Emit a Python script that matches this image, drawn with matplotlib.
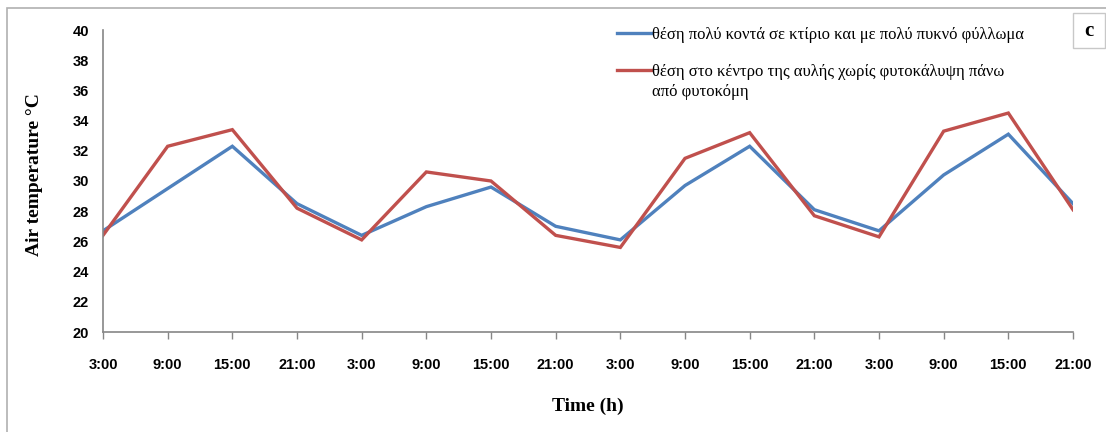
import matplotlib
matplotlib.use("Agg")
import matplotlib.pyplot as plt
from matplotlib.patches import Rectangle
from matplotlib.lines import Line2D

times = ["3:00", "9:00", "15:00", "21:00"] * 4
near_building = [26.7, 29.5, 32.3, 28.5, 26.4, 28.3, 29.6, 27.0,
                 26.1, 29.7, 32.3, 28.1, 26.7, 30.4, 33.1, 28.5]
courtyard_center = [26.4, 32.3, 33.4, 28.2, 26.1, 30.6, 30.0, 26.4,
                    25.6, 31.5, 33.2, 27.7, 26.3, 33.3, 34.5, 28.1]
label_blue = "θέση πολύ κοντά σε κτίριο και με πολύ πυκνό φύλλωμα"
label_red = "θέση στο κέντρο της αυλής χωρίς φυτοκάλυψη πάνω\nαπό φυτοκόμη"
y_ticks = list(range(20, 41, 2))

W, H = 1106, 432
BLUE, RED = "#4F81BD", "#C0504D"
fig = plt.figure(figsize=(W / 100, H / 100), dpi=100)
ax = fig.add_axes([103 / W, 1 - 332 / H, (1073 - 103) / W, (332 - 30) / H])

x = list(range(len(times)))
ax.plot(x, near_building, color=BLUE, lw=2.4, solid_joinstyle="miter")
ax.plot(x, courtyard_center, color=RED, lw=2.4, solid_joinstyle="miter")

ax.set_xlim(0, len(times) - 1)
ax.set_ylim(20, 40)
ax.set_xticks(x)
ax.set_xticklabels(times, fontfamily="Liberation Sans", fontweight="bold", fontsize=10.5)
ax.set_yticks(y_ticks)
ax.set_yticklabels([str(v) for v in y_ticks], fontfamily="Liberation Sans", fontweight="bold", fontsize=10.5)
ax.tick_params(axis="x", direction="out", length=5, width=1, color="#868686", pad=14)
ax.tick_params(axis="y", length=0, pad=10)
for s in ["top", "right"]:
    ax.spines[s].set_visible(False)
for s in ["left", "bottom"]:
    ax.spines[s].set_color("#868686")
    ax.spines[s].set_linewidth(1.2)

ax.set_xlabel("Time (h)", fontfamily="Liberation Serif", fontweight="bold", fontsize=14, labelpad=18)
fig.text(35 / W, 1 - 175 / H, "Air temperature \u00b0C", rotation=90, ha="center", va="center",
         fontfamily="Liberation Serif", fontweight="bold", fontsize=14)

# legend (drawn manually to match layout)
for yy, col, lab in [(33, BLUE, label_blue), (70, RED, label_red)]:
    fig.add_artist(Line2D([617 / W, 651 / W], [1 - yy / H, 1 - yy / H], color=col, lw=2.4,
                          transform=fig.transFigure))
    fig.text(652 / W, 1 - (yy - 6) / H, lab, ha="left", va="top", fontfamily="Liberation Serif",
             fontsize=12, linespacing=1.3)

# outer frame
fig.patches.append(Rectangle((7 / W, -0.1), 1.2, 1 - 8 / H + 0.1, transform=fig.transFigure,
                             fill=False, edgecolor="#B0B0B0", lw=1.2))
# panel letter box
fig.patches.append(Rectangle((1073 / W, 1 - 48 / H), 32 / W, 35 / H, transform=fig.transFigure,
                             facecolor="white", edgecolor="#C8C8C8", lw=1))
fig.text(1089 / W, 1 - 31 / H, "c", ha="center", va="center", fontfamily="Liberation Serif",
         fontweight="bold", fontsize=15)

fig.savefig("out.png", dpi=100)
